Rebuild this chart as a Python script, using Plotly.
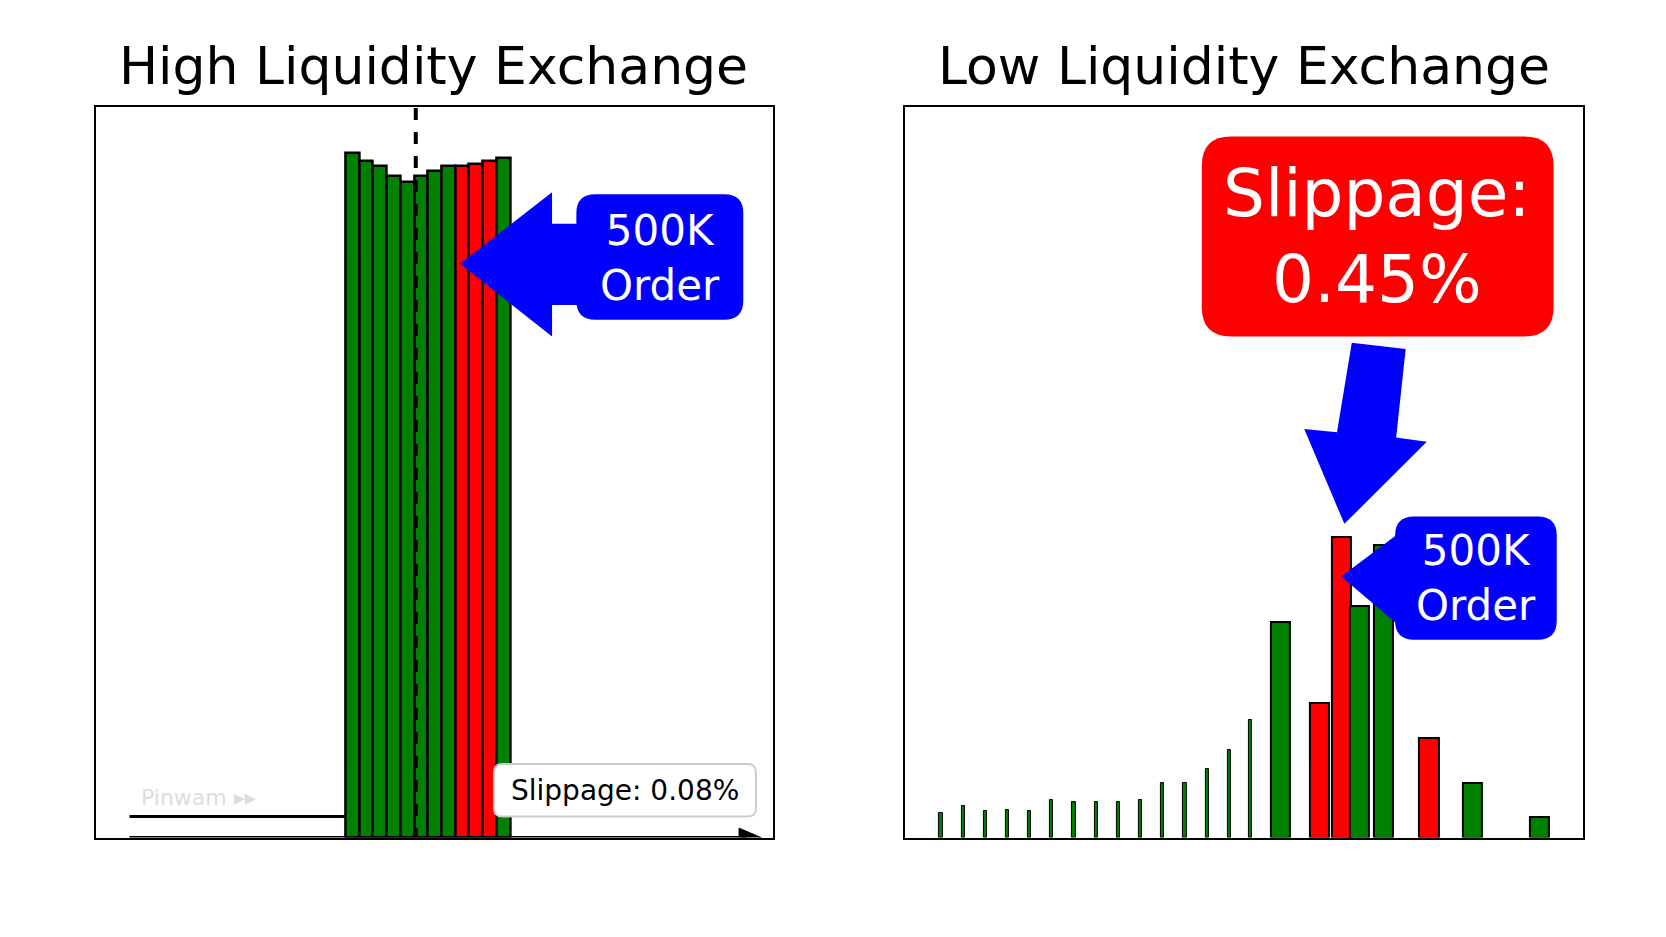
import plotly.graph_objects as go
from plotly.subplots import make_subplots

# 图像坐标按读图时的尺寸，再换算到页面
W, H = 1577.0, 890.0

# 左图：高流动性交易所的订单簿（价格位置、深度、方向）
high_price = [326, 339, 352, 365, 378, 391, 404, 417, 430, 443, 456, 469]
high_depth = [650, 643, 638, 628, 623, 628, 633, 638, 638, 640, 643, 646]
high_side = ['g', 'g', 'g', 'g', 'g', 'g', 'g', 'g', 'r', 'r', 'r', 'g']

# 右图：低流动性交易所的订单簿
low_price = [883, 904, 925, 946, 967, 988, 1009, 1030, 1051, 1072, 1093, 1114,
             1135, 1156, 1176, 1204, 1241, 1262, 1279, 1302, 1345, 1386, 1450]
low_depth = [23, 30, 25, 26, 25, 36, 34, 34, 34, 36, 52, 52,
             65, 83, 112, 205, 128, 286, 220, 278, 95, 52, 20]
low_side = ['g'] * 16 + ['r', 'r', 'g', 'g', 'r', 'g', 'g']
low_width = [3] * 15 + [18] * 8

GREEN, RED, BLUE = '#008000', '#ff0000', '#0000ff'

fig = make_subplots(rows=1, cols=2)

fig.add_trace(go.Bar(
    x=high_price, y=high_depth, width=13,
    marker=dict(color=[GREEN if s == 'g' else RED for s in high_side],
                line=dict(color='black', width=2.5)),
), row=1, col=1)

fig.add_trace(go.Bar(
    x=low_price, y=low_depth, width=low_width,
    marker=dict(color=[GREEN if s == 'g' else RED for s in low_side],
                line=dict(color='black', width=[1] * 15 + [2] * 8)),
), row=1, col=2)


def Y(py):
    return 788 - py


def rounded(x0, x1, top, bottom, r):
    # 圆角矩形路径
    y0, y1 = Y(bottom), Y(top)
    return (f'M {x0 + r} {y0} L {x1 - r} {y0} Q {x1} {y0} {x1} {y0 + r} '
            f'L {x1} {y1 - r} Q {x1} {y1} {x1 - r} {y1} L {x0 + r} {y1} '
            f'Q {x0} {y1} {x0} {y1 - r} L {x0} {y0 + r} Q {x0} {y0} {x0 + r} {y0} Z')


shapes = []
# 左图：虚线和坐标线
shapes.append(dict(type='line', xref='x', yref='y', x0=386, x1=386, y0=Y(95), y1=Y(805),
                   line=dict(color='black', width=4, dash='dash')))
shapes.append(dict(type='line', xref='x', yref='y', x0=115, x1=700, y0=Y(788), y1=Y(788),
                   line=dict(color='black', width=3)))
shapes.append(dict(type='path', xref='x', yref='y',
                   path=f'M 692 {Y(779)} L 713 {Y(788)} L 692 {Y(797)} Z',
                   fillcolor='black', line=dict(color='black', width=1)))
shapes.append(dict(type='line', xref='x', yref='y', x0=115, x1=320, y0=Y(768), y1=Y(768),
                   line=dict(color='black', width=3)))
# 左图：蓝色箭头 + 标签
shapes.append(dict(type='path', xref='x', yref='y',
                   path=(f'M 428 {Y(243)} L 515 {Y(175)} L 515 {Y(205)} L 545 {Y(205)} '
                         f'L 545 {Y(282)} L 515 {Y(282)} L 515 {Y(312)} Z'),
                   fillcolor=BLUE, line=dict(width=0)))
shapes.append(dict(type='path', xref='x', yref='y', path=rounded(538, 696, 177, 296, 18),
                   fillcolor=BLUE, line=dict(width=0)))
shapes.append(dict(type='path', xref='x', yref='y', path=rounded(460, 708, 718, 768, 8),
                   fillcolor='white', line=dict(color='#cccccc', width=2)))
# 右图：红框和向下箭头
shapes.append(dict(type='path', xref='x2', yref='y2', path=rounded(1130, 1463, 122, 312, 28),
                   fillcolor=RED, line=dict(width=0)))
shapes.append(dict(type='path', xref='x2', yref='y2',
                   path=(f'M 1272 {Y(318)} L 1323 {Y(324)} L 1314 {Y(408)} L 1343 {Y(412)} '
                         f'L 1265 {Y(490)} L 1227 {Y(400)} L 1258 {Y(403)} Z'),
                   fillcolor=BLUE, line=dict(width=0)))
# 右图：蓝色箭头 + 标签
shapes.append(dict(type='path', xref='x2', yref='y2',
                   path=(f'M 1262 {Y(540)} L 1315 {Y(500)} L 1315 {Y(585)} Z'),
                   fillcolor=BLUE, line=dict(width=0)))
shapes.append(dict(type='path', xref='x2', yref='y2', path=rounded(1313, 1466, 483, 600, 18),
                   fillcolor=BLUE, line=dict(width=0)))
fig.update_layout(shapes=shapes)

FONT = 'DejaVu Sans'
ann = [
    dict(text='High Liquidity Exchange', xref='paper', yref='paper', x=403 / W, y=1 - 55 / H,
         font=dict(size=52, color='black')),
    dict(text='Low Liquidity Exchange', xref='paper', yref='paper', x=1170 / W, y=1 - 55 / H,
         font=dict(size=52, color='black')),
    dict(text='500K<br>Order', xref='x', yref='y', x=617, y=Y(237),
         font=dict(size=42, color='white')),
    dict(text='Slippage: 0.08%', xref='x', yref='y', x=584, y=Y(743),
         font=dict(size=28, color='black')),
    dict(text='Pinwam ▸▸', xref='x', yref='y', x=180, y=Y(750),
         font=dict(size=22, color='#dddddd')),
    dict(text='Slippage:<br>0.45%', xref='x2', yref='y2', x=1296, y=Y(217),
         font=dict(size=66, color='white')),
    dict(text='500K<br>Order', xref='x2', yref='y2', x=1390, y=Y(541),
         font=dict(size=42, color='white')),
]
for a in ann:
    a['showarrow'] = False
    a['xanchor'] = 'center'
    a['yanchor'] = 'middle'
fig.update_layout(annotations=ann)

fig.update_layout(
    width=1666, height=937,
    margin=dict(l=0, r=0, t=0, b=0),
    paper_bgcolor='white', plot_bgcolor='white',
    showlegend=False, barmode='overlay', bargap=0,
    font=dict(family=FONT),
    xaxis=dict(domain=[83 / W, 724 / W], range=[83, 724]),
    xaxis2=dict(domain=[849 / W, 1491 / W], range=[849, 1491]),
    yaxis=dict(domain=[1 - 788 / H, 1 - 94 / H], range=[0, 694]),
    yaxis2=dict(domain=[1 - 788 / H, 1 - 94 / H], range=[0, 694]),
)
fig.update_xaxes(showticklabels=False, ticks='', showgrid=False, zeroline=False,
                 showline=True, linecolor='black', linewidth=2, mirror=True)
fig.update_yaxes(showticklabels=False, ticks='', showgrid=False, zeroline=False,
                 showline=True, linecolor='black', linewidth=2, mirror=True)

fig.write_html('out.html')
